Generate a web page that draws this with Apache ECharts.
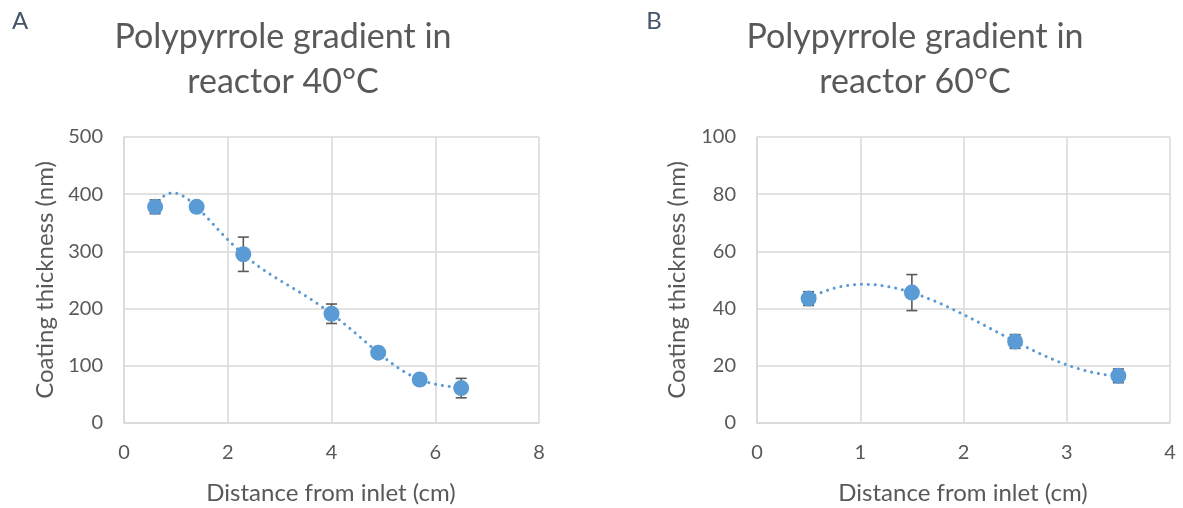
<!DOCTYPE html>
<html>
<head>
<meta charset="utf-8">
<script src="https://cdn.jsdelivr.net/npm/echarts@6/dist/echarts.min.js"></script>
<style>
  html, body { margin: 0; padding: 0; background: #fff; }
  #chart { width: 1183px; height: 508px; }
</style>
</head>
<body>
<div id="chart"></div>
<script>
// Panel A: 40°C reactor
const distA = [0.6, 1.4, 2.3, 4.0, 4.9, 5.7, 6.5]
const thickA = [378, 378, 295, 191, 123, 76, 61]
const errA = [12, 5, 30, 17, 5, 5, 17]

// Panel B: 60°C reactor
const distB = [0.5, 1.5, 2.5, 3.5]
const thickB = [43.5, 45.6, 28.5, 16.5]
const errB = [2.4, 6.3, 2.4, 2.4]

const textColor = '#595959'
const gridColor = '#d9d9d9'
const pointColor = '#5b9bd5'
const fontFamily = 'Lato'

const pairs = (xs, ys) => xs.map((x, i) => [x, ys[i]])
const errData = (xs, ys, es) => xs.map((x, i) => [x, ys[i] - es[i], ys[i] + es[i]])

// least squares polynomial fit, same idea as a spreadsheet polynomial trendline
function polyFit(xs, ys, order) {
    const n = order + 1
    const m = []
    for (let r = 0; r < n; r++) {
        const row = []
        for (let c = 0; c < n; c++) {
            row.push(xs.reduce((s, x) => s + Math.pow(x, r + c), 0))
        }
        row.push(xs.reduce((s, x, i) => s + ys[i] * Math.pow(x, r), 0))
        m.push(row)
    }
    for (let col = 0; col < n; col++) {
        let piv = col
        for (let r = col + 1; r < n; r++) {
            if (Math.abs(m[r][col]) > Math.abs(m[piv][col])) piv = r
        }
        const tmp = m[col]; m[col] = m[piv]; m[piv] = tmp
        for (let r = 0; r < n; r++) {
            if (r === col) continue
            const f = m[r][col] / m[col][col]
            for (let c = col; c <= n; c++) m[r][c] -= f * m[col][c]
        }
    }
    const coef = m.map((row, i) => row[n] / row[i])
    return x => coef.reduce((s, a, i) => s + a * Math.pow(x, i), 0)
}

function valueAxis(gridIndex, max, interval, isY) {
    return {
        type: 'value',
        gridIndex: gridIndex,
        min: 0,
        max: max,
        interval: interval,
        axisLine: { show: true, lineStyle: { color: gridColor, width: 1.5 } },
        axisTick: { show: false },
        splitLine: { show: true, lineStyle: { color: gridColor, width: 1.5 } },
        axisLabel: {
            color: textColor,
            fontFamily: fontFamily,
            fontSize: 20,
            margin: isY ? 21 : 20,
        },
    }
}

function errorSeries(idx, data) {
    return {
        type: 'custom',
        xAxisIndex: idx,
        yAxisIndex: idx,
        z: 2,
        silent: true,
        data: data,
        renderItem: (params, api) => {
            const low = api.coord([api.value(0), api.value(1)])
            const high = api.coord([api.value(0), api.value(2)])
            const half = 5.5
            const style = { stroke: '#595959', lineWidth: 1.6 }
            return {
                type: 'group',
                children: [
                    { type: 'line', shape: { x1: low[0], y1: low[1], x2: high[0], y2: high[1] }, style: style },
                    { type: 'line', shape: { x1: low[0] - half, y1: low[1], x2: low[0] + half, y2: low[1] }, style: style },
                    { type: 'line', shape: { x1: high[0] - half, y1: high[1], x2: high[0] + half, y2: high[1] }, style: style },
                ],
            }
        },
    }
}

// dotted polynomial trendline through the fitted curve, drawn once per panel
function trendSeries(idx, xs, ys, order) {
    const fit = polyFit(xs, ys, order)
    const x0 = Math.min(...xs)
    const x1 = Math.max(...xs)
    return {
        type: 'custom',
        xAxisIndex: idx,
        yAxisIndex: idx,
        z: 1,
        silent: true,
        data: pairs(xs, ys),
        renderItem: (params, api) => {
            if (params.dataIndex !== 0) return null
            const pts = []
            const steps = 200
            for (let k = 0; k <= steps; k++) {
                const x = x0 + (x1 - x0) * k / steps
                pts.push(api.coord([x, fit(x)]))
            }
            return {
                type: 'polyline',
                shape: { points: pts },
                style: { stroke: pointColor, lineWidth: 3, lineDash: [0.1, 6.8], lineCap: 'round', fill: null },
            }
        },
    }
}

function pointSeries(idx, data) {
    return {
        type: 'scatter',
        xAxisIndex: idx,
        yAxisIndex: idx,
        z: 3,
        data: data,
        symbol: 'circle',
        symbolSize: 16,
        itemStyle: { color: pointColor, opacity: 1 },
    }
}

const chart = echarts.init(document.getElementById('chart'))
chart.setOption({
    animation: false,
    grid: [
        { left: 124, top: 137, width: 415, height: 286 },
        { left: 757, top: 137, width: 413, height: 286 },
    ],
    xAxis: [valueAxis(0, 8, 2, false), valueAxis(1, 4, 1, false)],
    yAxis: [valueAxis(0, 500, 100, true), valueAxis(1, 100, 20, true)],
    graphic: [
        { type: 'text', x: 20, y: 21, style: { text: 'A', fontFamily: fontFamily, fontSize: 24, fill: '#44546a', align: 'center', verticalAlign: 'middle' } },
        { type: 'text', x: 654, y: 21, style: { text: 'B', fontFamily: fontFamily, fontSize: 24, fill: '#44546a', align: 'center', verticalAlign: 'middle' } },
        { type: 'text', x: 283, y: 60, style: { text: 'Polypyrrole gradient in\nreactor 40°C', fontFamily: fontFamily, fontSize: 34, lineHeight: 45, fill: textColor, align: 'center', verticalAlign: 'middle' } },
        { type: 'text', x: 915, y: 60, style: { text: 'Polypyrrole gradient in\nreactor 60°C', fontFamily: fontFamily, fontSize: 34, lineHeight: 45, fill: textColor, align: 'center', verticalAlign: 'middle' } },
        { type: 'text', x: 45, y: 280, rotation: Math.PI / 2, style: { text: 'Coating thickness (nm)', fontFamily: fontFamily, fontSize: 24, fill: textColor, align: 'center', verticalAlign: 'middle' } },
        { type: 'text', x: 677, y: 280, rotation: Math.PI / 2, style: { text: 'Coating thickness (nm)', fontFamily: fontFamily, fontSize: 24, fill: textColor, align: 'center', verticalAlign: 'middle' } },
        { type: 'text', x: 331, y: 493, style: { text: 'Distance from inlet (cm)', fontFamily: fontFamily, fontSize: 24, fill: textColor, align: 'center', verticalAlign: 'middle' } },
        { type: 'text', x: 963, y: 493, style: { text: 'Distance from inlet (cm)', fontFamily: fontFamily, fontSize: 24, fill: textColor, align: 'center', verticalAlign: 'middle' } },
    ],
    series: [
        trendSeries(0, distA, thickA, 6),
        errorSeries(0, errData(distA, thickA, errA)),
        pointSeries(0, pairs(distA, thickA)),
        trendSeries(1, distB, thickB, 3),
        errorSeries(1, errData(distB, thickB, errB)),
        pointSeries(1, pairs(distB, thickB)),
    ],
})
</script>
</body>
</html>
